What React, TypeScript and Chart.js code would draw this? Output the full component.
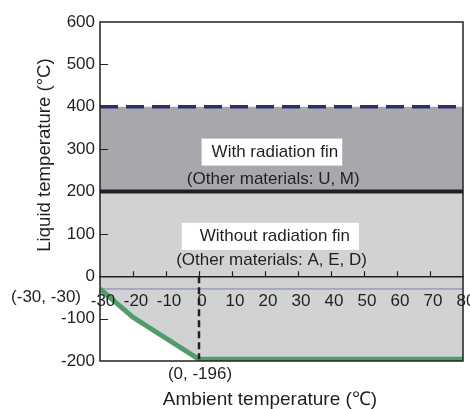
import React, { useEffect, useRef } from 'react';
import { Chart, registerables } from 'chart.js';

Chart.register(...registerables);

// ---- data ----
const curveX = [-30, -20, 0, 80];
const curveY = [-30, -97, -196, -196];
const bandTopY = [400, 400, 400, 400];
const bandMidY = [200, 200, 200, 200];
const refLineX = [-30, 80];
const refLineY = [-30, -30];
const dropX = [0, 0];
const dropY = [0, -196];
const xTickValues = [-20, -10, 0, 10, 20, 30, 40, 50, 60, 70];
const yTickValues = [500, 300, 100, -100];

const INK = '#231f20';
const FONT = 'Liberation Sans, Arial, Helvetica, sans-serif';

const pts = (xs: number[], ys: number[]) => xs.map((x, i) => ({ x, y: ys[i] }));

// region labels: [text, dataX, dataY, boxed, padLeft, padRight]
const regionLabels: [string, number, number, boolean, number, number][] = [
  ['With radiation fin', 23, 293, true, 10, 4],
  ['(Other materials: U, M)', 22.5, 228, false, 0, 0],
  ['Without radiation fin', 23, 94, true, 18, 9],
  ['(Other materials: A, E, D)', 22, 38, false, 0, 0],
];

const overlay = {
  id: 'overlay',
  afterDraw(chart: any) {
    const { ctx, chartArea: a, scales } = chart;
    const x = scales.x;
    const y = scales.y;
    ctx.save();
    // frame
    ctx.strokeStyle = INK;
    ctx.lineWidth = 1.5;
    ctx.strokeRect(a.left, a.top, a.right - a.left, a.bottom - a.top);
    // inner ticks
    ctx.beginPath();
    ctx.lineWidth = 1.2;
    for (const v of yTickValues) {
      const py = Math.round(y.getPixelForValue(v)) + 0.5;
      ctx.moveTo(a.left, py);
      ctx.lineTo(a.left + 8, py);
    }
    const y0 = y.getPixelForValue(0);
    for (const v of xTickValues) {
      const px = Math.round(x.getPixelForValue(v)) + 0.5;
      ctx.moveTo(px, y0);
      ctx.lineTo(px, y0 - 5);
    }
    ctx.stroke();

    // region labels
    ctx.font = `17px ${FONT}`;
    ctx.textBaseline = 'middle';
    ctx.textAlign = 'center';
    for (const [t, dx, dy, boxed, pl, pr] of regionLabels) {
      const px = x.getPixelForValue(dx);
      const py = y.getPixelForValue(dy);
      const w = ctx.measureText(t).width;
      if (boxed) {
        ctx.fillStyle = '#ffffff';
        ctx.fillRect(px - w / 2 - pl, py - 13.5, w + pl + pr, 27);
      }
      ctx.fillStyle = INK;
      ctx.fillText(t, px, py);
    }

    // point annotations
    ctx.fillStyle = INK;
    ctx.textAlign = 'right';
    ctx.fillText(
      `(${curveX[0]}, ${curveY[0]})`,
      x.getPixelForValue(curveX[0]) - 19,
      y.getPixelForValue(curveY[0]) + 8
    );
    ctx.textAlign = 'center';
    ctx.fillText(
      `(${curveX[2]}, ${curveY[2]})`,
      x.getPixelForValue(curveX[2]) + 1,
      y.getPixelForValue(curveY[2]) + 15
    );

    // axis titles
    ctx.font = `19px ${FONT}`;
    ctx.fillText('Ambient temperature (\u2103)', a.left + 170, a.bottom + 39);
    ctx.save();
    ctx.translate(45, 155);
    ctx.rotate(-Math.PI / 2);
    ctx.font = `18.6px ${FONT}`;
    ctx.fillText('Liquid temperature (\u00b0C)', 0, 0);
    ctx.restore();

    ctx.restore();
  },
};

export default function App() {
  const ref = useRef<HTMLCanvasElement | null>(null);
  useEffect(() => {
    if (!ref.current) return;
    const chart = new Chart(ref.current, {
      type: 'line',
      data: {
        datasets: [
          {
            data: pts(curveX, bandTopY),
            borderColor: '#2b2e6e',
            borderWidth: 3.5,
            borderDash: [18, 8],
            backgroundColor: '#a7a8ab',
            fill: { value: 200 },
            pointRadius: 0,
            order: 5,
          },
          {
            data: pts(curveX, bandMidY),
            borderColor: INK,
            borderWidth: 4,
            backgroundColor: '#d1d2d4',
            fill: 2,
            pointRadius: 0,
            order: 4,
          },
          {
            data: pts(curveX, curveY),
            borderColor: '#529c6b',
            borderWidth: 5,
            fill: false,
            pointRadius: 0,
            order: 1,
          },
          {
            data: pts(refLineX, refLineY),
            borderColor: '#7e80b4',
            borderWidth: 1,
            fill: false,
            pointRadius: 0,
            order: 2,
          },
          {
            data: pts(dropX, dropY),
            borderColor: INK,
            borderWidth: 2.5,
            borderDash: [7, 4],
            fill: false,
            pointRadius: 0,
            order: 0,
          },
        ],
      },
      options: {
        responsive: false,
        animation: false,
        events: [],
        layout: { padding: { top: 22, right: 7, bottom: 48, left: 0 } },
        plugins: { legend: { display: false }, tooltip: { enabled: false } },
        scales: {
          x: {
            type: 'linear',
            position: { y: 0 } as any,
            min: -30,
            max: 80,
            grid: { display: false, drawTicks: false },
            border: { display: true, color: INK, width: 1.5, z: 1 } as any,
            ticks: {
              z: 1,
              stepSize: 10,
              autoSkip: false,
              maxRotation: 0,
              padding: 15,
              labelOffset: 3,
              color: INK,
              font: { family: FONT, size: 17 },
            } as any,
            afterFit: (s: any) => {
              s.paddingLeft = 0;
              s.paddingRight = 0;
            },
          },
          y: {
            type: 'linear',
            position: 'left',
            min: -200,
            max: 600,
            grid: { display: false, drawTicks: false },
            border: { display: false },
            ticks: {
              stepSize: 100,
              padding: 5,
              color: INK,
              font: { family: FONT, size: 17 },
            },
            afterFit: (s: any) => {
              s.width = 100;
            },
          },
        },
      },
      plugins: [overlay],
    });
    return () => chart.destroy();
  }, []);
  return (
    <div style={{ position: 'absolute', left: 0, top: 0, width: 470, height: 409, background: '#fff' }}>
      <canvas ref={ref} width={470} height={409} />
    </div>
  );
}
